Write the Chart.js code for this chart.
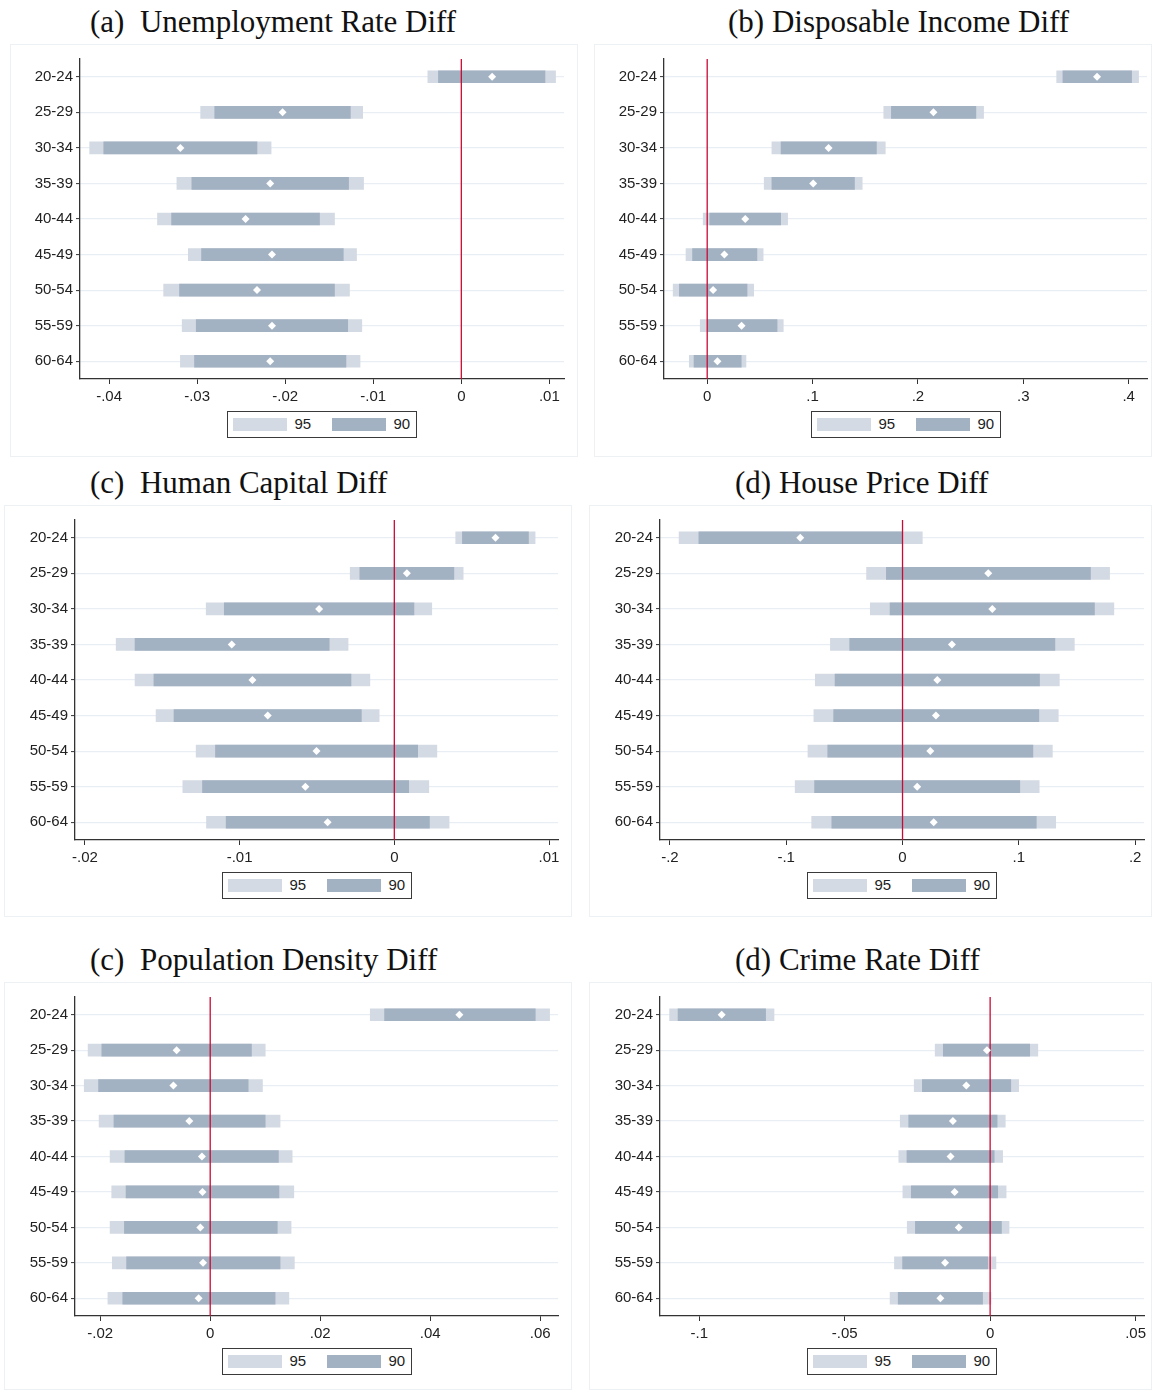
<!DOCTYPE html>
<html>
<head>
<meta charset="utf-8">
<title>Age-group differences</title>
<script src="https://cdn.jsdelivr.net/npm/chart.js@4.4.1/dist/chart.umd.min.js"></script>
<style>
  html, body { margin: 0; padding: 0; background: #fff; }
  body { width: 1152px; height: 1393px; position: relative; overflow: hidden;
         font-family: "Liberation Sans", Arial, sans-serif; }
  .frame { position: absolute; border: 1px solid #edf1f4; box-sizing: border-box; }
  .title { position: absolute; font-family: "Liberation Serif", "Times New Roman", serif;
           font-size: 31px; line-height: 31px; color: #111; white-space: pre; }
  canvas { position: absolute; }
  .legend { position: absolute; box-sizing: border-box; width: 190px; height: 27px;
            border: 1.5px solid #3a3a3a; background: #fff; font-size: 15px; color: #222; }
  .legend .sw { position: absolute; top: 5.5px; width: 54px; height: 13px; }
  .legend .lb { position: absolute; top: 3px; line-height: 18px; }
</style>
</head>
<body>
<script>
// Age groups on the vertical axis
const ageGroups = ['20-24', '25-29', '30-34', '35-39', '40-44', '45-49', '50-54', '55-59', '60-64'];

// (a) Unemployment rate
const unempEst = [0.0035, -0.0203, -0.0319, -0.0217, -0.0245, -0.0215, -0.0232, -0.0215, -0.0217];
const unemp95 = [[-0.0038, 0.0107], [-0.0296, -0.0112], [-0.0422, -0.0216], [-0.0323, -0.0111], [-0.0345, -0.0144],
                 [-0.0310, -0.0119], [-0.0338, -0.0127], [-0.0317, -0.0113], [-0.0319, -0.0115]];
const unemp90 = [[-0.0026, 0.0095], [-0.0280, -0.0126], [-0.0406, -0.0232], [-0.0306, -0.0128], [-0.0329, -0.0161],
                 [-0.0295, -0.0134], [-0.0320, -0.0144], [-0.0301, -0.0129], [-0.0303, -0.0131]];
const unempTicks = [-0.04, -0.03, -0.02, -0.01, 0, 0.01];

// (b) Disposable income
const incomeEst = [0.370, 0.2147, 0.1152, 0.1006, 0.0361, 0.0163, 0.0056, 0.0326, 0.0097];
const income95 = [[0.3317, 0.4094], [0.1676, 0.2623], [0.0614, 0.1690], [0.0541, 0.1471], [-0.0038, 0.0763],
                  [-0.0201, 0.0531], [-0.0323, 0.0441], [-0.0066, 0.0722], [-0.0170, 0.0368]];
const income90 = [[0.3376, 0.4028], [0.1748, 0.2550], [0.0701, 0.1606], [0.0614, 0.1398], [0.0024, 0.0697],
                  [-0.0139, 0.0472], [-0.0264, 0.0378], [0.0000, 0.0663], [-0.0125, 0.0323]];
const incomeTicks = [0, 0.1, 0.2, 0.3, 0.4];

// (c) Human capital
const humanEst = [0.00654, 0.00081, -0.00486, -0.01051, -0.00917, -0.00818, -0.00503, -0.00575, -0.00431];
const human95 = [[0.00397, 0.00910], [-0.00285, 0.00445], [-0.01216, 0.00242], [-0.01798, -0.00299], [-0.01676, -0.00158],
                 [-0.01540, -0.00098], [-0.01281, 0.00275], [-0.01367, 0.00223], [-0.01214, 0.00354]];
const human90 = [[0.00440, 0.00867], [-0.00223, 0.00385], [-0.01099, 0.00127], [-0.01676, -0.00421], [-0.01554, -0.00280],
                 [-0.01424, -0.00213], [-0.01156, 0.00151], [-0.01240, 0.00093], [-0.01087, 0.00227]];
const humanTicks = [-0.02, -0.01, 0, 0.01];

// (d) House price
const houseEst = [-0.0879, 0.0737, 0.0772, 0.0425, 0.0299, 0.0287, 0.0239, 0.0126, 0.0268];
const house95 = [[-0.1921, 0.0170], [-0.0309, 0.1780], [-0.0277, 0.1817], [-0.0620, 0.1477], [-0.0750, 0.1348],
                 [-0.0762, 0.1339], [-0.0813, 0.1288], [-0.0923, 0.1175], [-0.0781, 0.1317]];
const house90 = [[-0.1751, 0.0000], [-0.0139, 0.1616], [-0.0107, 0.1650], [-0.0454, 0.1310], [-0.0580, 0.1178],
                 [-0.0592, 0.1172], [-0.0643, 0.1121], [-0.0756, 0.1008], [-0.0608, 0.1150]];
const houseTicks = [-0.2, -0.1, 0, 0.1, 0.2];

// (e) Population density
const popEst = [0.0453, -0.0061, -0.0067, -0.0038, -0.0015, -0.0014, -0.0018, -0.0013, -0.0021];
const pop95 = [[0.0291, 0.0617], [-0.0222, 0.0100], [-0.0229, 0.0095], [-0.0202, 0.0127], [-0.0182, 0.0149],
               [-0.0179, 0.0152], [-0.0182, 0.0147], [-0.0178, 0.0153], [-0.0186, 0.0143]];
const pop90 = [[0.0317, 0.0591], [-0.0197, 0.0075], [-0.0203, 0.0069], [-0.0175, 0.0100], [-0.0155, 0.0124],
               [-0.0153, 0.0125], [-0.0156, 0.0122], [-0.0152, 0.0127], [-0.0159, 0.0118]];
const popTicks = [-0.02, 0, 0.02, 0.04, 0.06];

// (f) Crime rate
const crimeEst = [-0.0923, -0.0011, -0.0082, -0.0128, -0.0136, -0.0122, -0.0108, -0.0155, -0.0171];
const crime95 = [[-0.1102, -0.0743], [-0.0189, 0.0164], [-0.0261, 0.0098], [-0.0309, 0.0052], [-0.0314, 0.0043],
                 [-0.0300, 0.0055], [-0.0285, 0.0065], [-0.0329, 0.0020], [-0.0344, 0.0003]];
const crime90 = [[-0.1073, -0.0772], [-0.0161, 0.0136], [-0.0233, 0.0071], [-0.0280, 0.0024], [-0.0286, 0.0014],
                 [-0.0271, 0.0026], [-0.0257, 0.0039], [-0.0301, -0.0008], [-0.0316, -0.0026]];
const crimeTicks = [-0.1, -0.05, 0, 0.05];

// Panel layout: plot box [left, top, right, bottom] in page pixels
const panels = [
  { title: '(a)  Unemployment Rate Diff', tx: 90, ty: 6, frame: [10, 44, 568, 413], x0: 0, w: 580,
    plot: [80, 59, 564, 379], min: -0.0433, max: 0.01166, est: unempEst, c95: unemp95, c90: unemp90, ticks: unempTicks },
  { title: '(b) Disposable Income Diff', tx: 728, ty: 6, frame: [594, 44, 558, 413], x0: 580, w: 572,
    plot: [664, 59, 1147, 379], min: -0.041, max: 0.4174, est: incomeEst, c95: income95, c90: income90, ticks: incomeTicks },
  { title: '(c)  Human Capital Diff', tx: 90, ty: 467, frame: [4, 505, 568, 412], x0: 0, w: 580,
    plot: [75, 520, 558, 840], min: -0.02064, max: 0.01058, est: humanEst, c95: human95, c90: human90, ticks: humanTicks },
  { title: '(d) House Price Diff', tx: 735, ty: 467, frame: [589, 505, 563, 412], x0: 580, w: 572,
    plot: [660, 520, 1144, 840], min: -0.2085, max: 0.2076, est: houseEst, c95: house95, c90: house90, ticks: houseTicks },
  { title: '(c)  Population Density Diff', tx: 90, ty: 944, frame: [4, 982, 568, 408], x0: 0, w: 580,
    plot: [75, 997, 558, 1316], min: -0.02458, max: 0.06323, est: popEst, c95: pop95, c90: pop90, ticks: popTicks },
  { title: '(d) Crime Rate Diff', tx: 735, ty: 944, frame: [589, 982, 563, 408], x0: 580, w: 572,
    plot: [660, 997, 1144, 1316], min: -0.1135, max: 0.0529, est: crimeEst, c95: crime95, c90: crime90, ticks: crimeTicks }
];

const COL95 = '#d3dae3';
const COL90 = '#a3b2c2';
const AXIS = '#333333';
const GRID = '#e8eef3';
const ZERO = '#c90a34';

Chart.defaults.font.family = '"Liberation Sans", Arial, sans-serif';
Chart.defaults.font.size = 15;
Chart.defaults.color = '#222';

// Stata-style number labels: .01, -.04, 0
function fmt(v) {
  if (Math.abs(v) < 1e-12) return '0';
  let s = String(+v.toPrecision(6));
  return s.replace(/^(-?)0\./, '$1.');
}

// Red reference line at zero, drawn over the bars but under the point markers
const zeroLine = {
  id: 'zeroLine',
  afterDatasetDraw(chart, args) {
    if (args.index !== 1) return;
    const x = chart.scales.x.getPixelForValue(0);
    const a = chart.chartArea;
    const ctx = chart.ctx;
    ctx.save();
    ctx.strokeStyle = ZERO;
    ctx.lineWidth = 1.3;
    ctx.beginPath();
    ctx.moveTo(x, a.top);
    ctx.lineTo(x, a.bottom);
    ctx.stroke();
    ctx.restore();
  }
};

function el(tag, cls, css, text) {
  const e = document.createElement(tag);
  if (cls) e.className = cls;
  Object.assign(e.style, css || {});
  if (text != null) e.textContent = text;
  document.body.appendChild(e);
  return e;
}

panels.forEach(p => {
  const [fl, ft, fw, fh] = p.frame;
  el('div', 'frame', { left: fl + 'px', top: ft + 'px', width: fw + 'px', height: fh + 'px' });
  el('div', 'title', { left: p.tx + 'px', top: p.ty + 'px' }, p.title);

  const [pl, pt, pr, pb] = p.plot;
  const padTop = 20, xH = 30;
  const cw = p.w, ch = (pb - pt) + padTop + xH;
  const cv = document.createElement('canvas');
  cv.width = cw; cv.height = ch;
  cv.style.left = p.x0 + 'px';
  cv.style.top = (pt - padTop) + 'px';
  cv.style.width = cw + 'px';
  cv.style.height = ch + 'px';
  document.body.appendChild(cv);

  new Chart(cv, {
    type: 'bar',
    data: {
      labels: ageGroups,
      datasets: [
        { type: 'line', label: 'estimate', data: p.est, indexAxis: 'y', showLine: false,
          pointStyle: 'rectRot', pointRadius: 4, pointHoverRadius: 4, pointBorderWidth: 0,
          pointBackgroundColor: '#ffffff', borderColor: '#ffffff', order: 0 },
        { label: '90', data: p.c90, indexAxis: 'y', backgroundColor: COL90, borderWidth: 0,
          barThickness: 12, grouped: false, order: 1 },
        { label: '95', data: p.c95, indexAxis: 'y', backgroundColor: COL95, borderWidth: 0,
          barThickness: 12, grouped: false, order: 2 }
      ]
    },
    options: {
      indexAxis: 'y',
      responsive: false,
      animation: false,
      devicePixelRatio: 1,
      layout: { padding: { top: padTop, left: 0, right: cw - (pr - p.x0), bottom: 0 } },
      plugins: { legend: { display: false }, tooltip: { enabled: false }, title: { display: false } },
      scales: {
        y: {
          type: 'category', offset: true,
          grid: { display: true, offset: false, color: GRID, lineWidth: 1.2,
                  drawTicks: true, tickLength: 4, tickColor: AXIS, tickWidth: 1 },
          border: { display: true, color: AXIS, width: 1.3 },
          ticks: { padding: 3, color: '#222', font: { size: 15 } },
          afterFit: s => { s.width = pl - p.x0; }
        },
        x: {
          type: 'linear', min: p.min, max: p.max,
          grid: { display: true, drawOnChartArea: false, drawTicks: true, tickLength: 5,
                  tickColor: AXIS, tickWidth: 1 },
          border: { display: true, color: AXIS, width: 1.3 },
          ticks: { padding: 4, color: '#222', font: { size: 15 }, maxRotation: 0, autoSkip: false,
                   callback: v => fmt(v) },
          afterBuildTicks: s => { s.ticks = p.ticks.map(v => ({ value: v })); },
          afterFit: s => { s.height = xH; }
        }
      }
    },
    plugins: [zeroLine]
  });

  // Legend box centred under the plot
  const lx = Math.round((pl + pr) / 2 - 95);
  const lg = el('div', 'legend', { left: lx + 'px', top: (pb + 32) + 'px' });
  const add = (cls, css, text) => {
    const e = document.createElement('div');
    e.className = cls; Object.assign(e.style, css);
    if (text) e.textContent = text;
    lg.appendChild(e);
  };
  add('sw', { left: '4.5px', background: COL95 });
  add('lb', { left: '66.5px' }, '95');
  add('sw', { left: '103.5px', background: COL90 });
  add('lb', { left: '165.5px' }, '90');
});
</script>
</body>
</html>
